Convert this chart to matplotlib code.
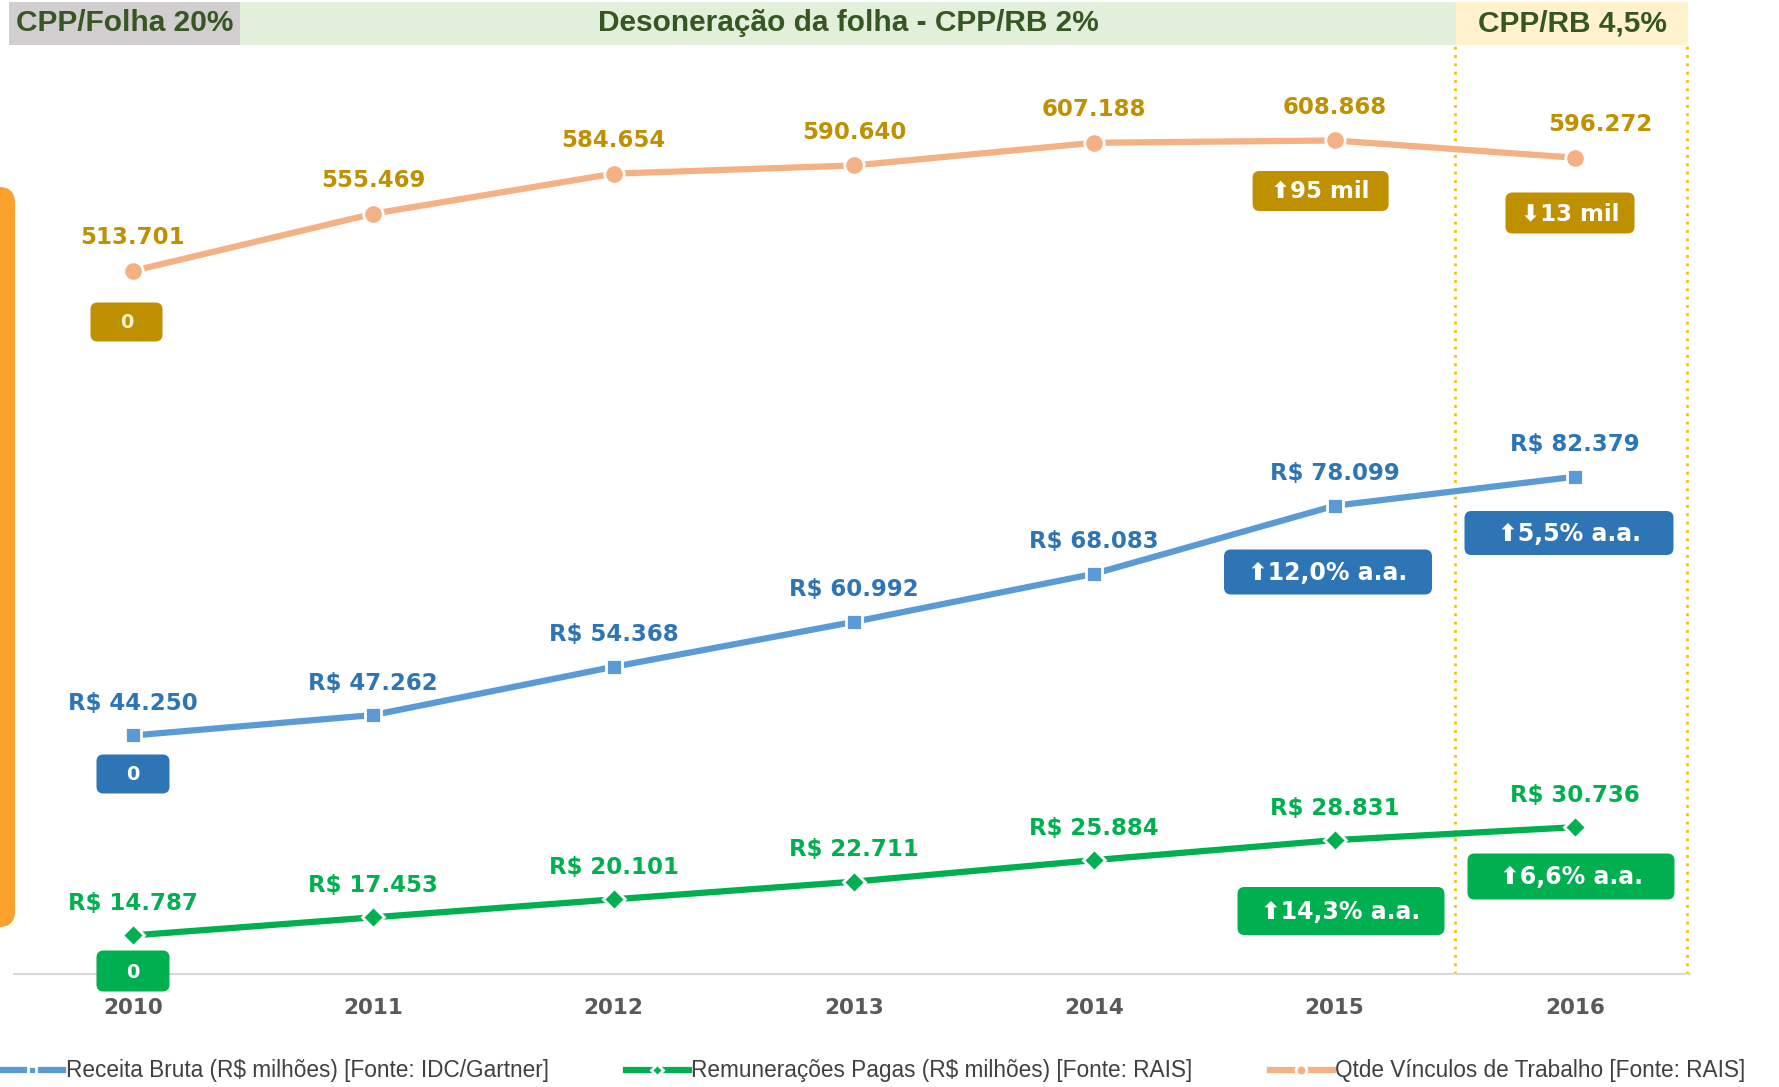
import matplotlib
matplotlib.use('Agg')
import matplotlib.pyplot as plt
from matplotlib.patches import FancyBboxPatch, Rectangle

W, H = 1779, 1087

years = ['2010', '2011', '2012', '2013', '2014', '2015', '2016']
receita = [44250, 47262, 54368, 60992, 68083, 78099, 82379]
remuneracoes = [14787, 17453, 20101, 22711, 25884, 28831, 30736]
vinculos = [513701, 555469, 584654, 590640, 607188, 608868, 596272]

legend_labels = ['Receita Bruta (R$ milhões) [Fonte: IDC/Gartner]',
                 'Remunerações Pagas (R$ milhões) [Fonte: RAIS]',
                 'Qtde Vínculos de Trabalho [Fonte: RAIS]']
header_labels = ['CPP/Folha 20%', 'Desoneração da folha - CPP/RB 2%', 'CPP/RB 4,5%']
vinc_badges = ['0', '⬆95 mil', '⬇13 mil']
rec_badges = ['0', '⬆12,0% a.a.', '⬆5,5% a.a.']
rem_badges = ['0', '⬆14,3% a.a.', '⬆6,6% a.a.']

c_orange, c_orange_txt = '#F4B183', '#BF9000'
c_blue, c_blue_txt, c_blue_box = '#5B9BD5', '#2E75B6', '#2E75B6'
c_green = '#00B050'


def fmt(v):
    return f'{v:,}'.replace(',', '.')


fig = plt.figure(figsize=(W / 100, H / 100), dpi=100)
ax = fig.add_axes([14 / W, 1 - 974 / H, (1690 - 14) / W, (974 - 45) / H])
ax2 = ax.twinx()

x = list(range(len(years)))
l_rec, = ax.plot(x, receita, color=c_blue, lw=4.5, marker='s', ms=11,
                 mec='white', mew=2, label=legend_labels[0], zorder=3)
l_rem, = ax.plot(x, remuneracoes, color=c_green, lw=4.5, marker='D', ms=11,
                 mec='white', mew=2, label=legend_labels[1], zorder=3)
l_vin, = ax2.plot(x, vinculos, color=c_orange, lw=4.5, marker='o', ms=14,
                  mec='white', mew=2, label=legend_labels[2], zorder=3)

ax.set_xlim(-0.495, 6.479)
ax.set_ylim(9100, 146000)
ax2.set_ylim(900, 678500)

for a in (ax, ax2):
    for s in ('left', 'right', 'top'):
        a.spines[s].set_visible(False)
    a.set_yticks([])
ax2.spines['bottom'].set_visible(False)
ax.spines['bottom'].set_color('#D9D9D9')
ax.spines['bottom'].set_linewidth(1.5)
ax.set_xticks(x)
ax.set_xticklabels(years, fontsize=15.5, fontweight='bold', color='#595959',
                   family='DejaVu Sans')
ax.tick_params(axis='x', length=0, pad=17)

ax.axvline(5.5, color='#F2C200', lw=2, ls=(0, (1, 2)))
ax.axvline(6.465, color='#F2C200', lw=2, ls=(0, (1, 2)))

for i, v in enumerate(vinculos):
    dx = 18 if i == len(vinculos) - 1 else 0
    ax2.annotate(fmt(v), (i, v), xytext=(dx, 24), textcoords='offset points',
                 ha='center', va='center', fontsize=16.5, fontweight='bold',
                 color=c_orange_txt)
for i, v in enumerate(receita):
    ax.annotate('R$ ' + fmt(v), (i, v), xytext=(0, 23), textcoords='offset points',
                ha='center', va='center', fontsize=16.5, fontweight='bold',
                color=c_blue_txt)
for i, v in enumerate(remuneracoes):
    ax.annotate('R$ ' + fmt(v), (i, v), xytext=(0, 23), textcoords='offset points',
                ha='center', va='center', fontsize=16.5, fontweight='bold',
                color=c_green)

# overlay in pixel coordinates for header, badges and side bar
ov = fig.add_axes([0, 0, 1, 1], zorder=5)
ov.set_xlim(0, W)
ov.set_ylim(H, 0)
ov.axis('off')

for (x0, x1), col, txt in zip([(9, 240), (240, 1456), (1456, 1688)],
                              ['#D0CECE', '#E2EFDA', '#FFF2CC'], header_labels):
    ov.add_patch(Rectangle((x0, 2), x1 - x0, 43, color=col, lw=0))
    ov.text((x0 + x1) / 2, 23, txt, ha='center', va='center', fontsize=21.5,
            fontweight='bold', color='#375623', family='Liberation Sans')

ov.add_patch(FancyBboxPatch((-30, 187), 45, 740,
                            boxstyle='round,pad=0,rounding_size=16',
                            color='#F9A12A', lw=0))


def badge(xc, yc, w, h, txt, col, tcol, fs):
    ov.add_patch(FancyBboxPatch((xc - w / 2, yc - h / 2), w, h,
                                boxstyle='round,pad=0,rounding_size=7',
                                color=col, lw=0))
    ov.text(xc, yc + 1, txt, ha='center', va='center', fontsize=fs,
            fontweight='bold', color=tcol)


gold_pos = [(126.5, 322, 72, 39), (1320.6, 191, 136, 40), (1570, 213, 129, 41)]
blue_pos = [(133, 774, 73, 39), (1328, 572, 208, 45), (1569, 533, 209, 44)]
green_pos = [(133, 971, 73, 41), (1341, 911, 207, 48), (1571, 876.5, 207, 46)]
for k, (p, t) in enumerate(zip(gold_pos, vinc_badges)):
    badge(*p, t, c_orange_txt, '#FFF2CC' if k == 0 else 'white', 14 if k == 0 else 16.5)
for k, (p, t) in enumerate(zip(blue_pos, rec_badges)):
    badge(*p, t, c_blue_box, 'white', 14 if k == 0 else 17)
for k, (p, t) in enumerate(zip(green_pos, rem_badges)):
    badge(*p, t, c_green, 'white', 14 if k == 0 else 17)

leg = fig.legend(handles=[l_rec, l_rem, l_vin], loc='center left',
                 bbox_to_anchor=(0, 1 - 1071 / H), ncol=3, frameon=False,
                 handlelength=2.8, handletextpad=0.1, columnspacing=3.4,
                 borderpad=0, borderaxespad=0, markerscale=0.55,
                 prop={'family': 'Liberation Sans', 'size': 16.3})
for t in leg.get_texts():
    t.set_color('#404040')

fig.savefig('out.png', dpi=100)
